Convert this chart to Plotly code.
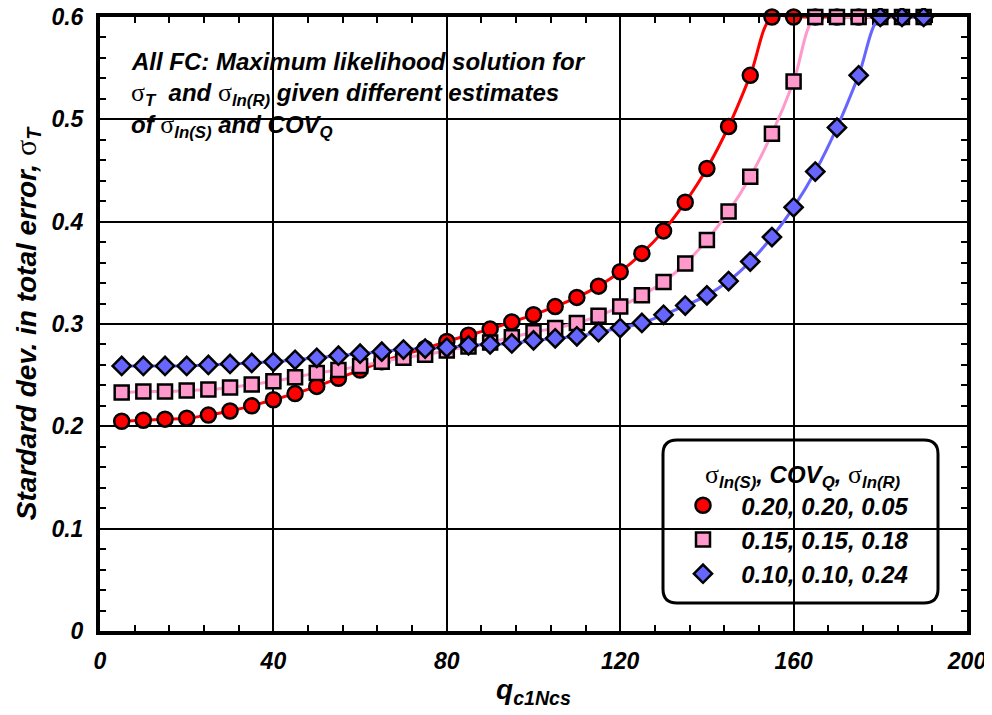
import plotly.graph_objects as go

# ---------------- data ----------------
q_c1ncs = [5, 10, 15, 20, 25, 30, 35, 40, 45, 50, 55, 60, 65, 70, 75, 80, 85, 90, 95,
           100, 105, 110, 115, 120, 125, 130, 135, 140, 145, 150, 155, 160, 165, 170,
           175, 180, 185, 190]

sigma_red = [0.205, 0.206, 0.207, 0.208, 0.211, 0.215, 0.220, 0.226, 0.232, 0.239,
             0.247, 0.255, 0.263, 0.270, 0.276, 0.283, 0.289, 0.295, 0.302, 0.309,
             0.317, 0.326, 0.337, 0.351, 0.369, 0.391, 0.419, 0.452, 0.493, 0.543,
             0.600, 0.600, 0.600, 0.600, 0.600, 0.600, 0.600, 0.600]

sigma_pink = [0.233, 0.234, 0.234, 0.235, 0.236, 0.238, 0.241, 0.244, 0.248, 0.252,
              0.255, 0.259, 0.263, 0.267, 0.270, 0.274, 0.278, 0.282, 0.287, 0.292,
              0.296, 0.301, 0.308, 0.317, 0.328, 0.341, 0.359, 0.382, 0.410, 0.444,
              0.486, 0.537, 0.600, 0.600, 0.600, 0.600, 0.600, 0.600]

sigma_blue = [0.259, 0.259, 0.259, 0.259, 0.260, 0.261, 0.262, 0.263, 0.265, 0.267,
              0.269, 0.271, 0.273, 0.275, 0.276, 0.277, 0.279, 0.280, 0.281, 0.284,
              0.286, 0.288, 0.292, 0.296, 0.301, 0.309, 0.318, 0.328, 0.342, 0.361,
              0.385, 0.414, 0.449, 0.492, 0.543, 0.600, 0.600, 0.600]

series_names = ["0.20, 0.20, 0.05", "0.15, 0.15, 0.18", "0.10, 0.10, 0.24"]
x_ticks = [0, 40, 80, 120, 160, 200]
y_ticks = [0, 0.1, 0.2, 0.3, 0.4, 0.5, 0.6]
y_ticklabels = ["0", "0.1", "0.2", "0.3", "0.4", "0.5", "0.6"]

# ---------------- styling ----------------
FONT = "Liberation Sans, Arial, sans-serif"
SIG = ('<span style="font-family:\'Liberation Serif\',serif;'
       'font-style:normal;font-weight:normal;font-size:1.08em">σ</span>')

OFF = 8                      # default page body margin
W, H = 992 - OFF, 715 - OFF
ML, MR, MT, MB = 92, 25, 9, 84
PW, PH = W - ML - MR, H - MT - MB


def px(xp):
    """page pixel x -> paper fraction"""
    return (xp - OFF - ML) / PW


def py(yp):
    """page pixel y -> paper fraction"""
    return (H - MB - (yp - OFF)) / PH


styles = [
    dict(color="#FF0000", symbol="circle", size=15),
    dict(color="#FF99CC", symbol="square", size=14),
    dict(color="#6666FF", symbol="diamond", size=14),
]
ys = [sigma_red, sigma_pink, sigma_blue]

fig = go.Figure()
for i, (yv, st, nm) in enumerate(zip(ys, styles, series_names)):
    fig.add_trace(go.Scatter(
        x=q_c1ncs, y=yv, mode="lines", line=dict(color=st["color"], width=3, shape="spline"),
        showlegend=False, hoverinfo="skip", cliponaxis=False))
    fig.add_trace(go.Scatter(
        x=q_c1ncs, y=yv, mode="markers", name="\u00a0\u00a0\u2009" + nm,
        marker=dict(color=st["color"], symbol=st["symbol"], size=st["size"],
                    line=dict(color="black", width=2.5)),
        cliponaxis=False, legendgroup=str(i)))

axis_common = dict(
    showline=True, linewidth=4, linecolor="black", mirror="ticks",
    showgrid=True, gridcolor="black", gridwidth=1.5,
    ticks="inside", ticklen=6, tickwidth=1.5, tickcolor="black",
    zeroline=False, automargin=False, ticklabeloverflow="allow",
    tickfont=dict(size=23, family=FONT, color="black", weight="bold", style="italic"),
)

fig.update_xaxes(
    range=[0, 200], tickvals=x_ticks, ticktext=[str(v) for v in x_ticks],
    minor=dict(dtick=8, tick0=0, ticks="inside", ticklen=6, tickwidth=1.5,
               tickcolor="black", showgrid=False),
    title=dict(text="q<sub>c1Ncs</sub>", font=dict(size=28), standoff=8),
    ticklabelstandoff=6,
    **axis_common)
fig.update_yaxes(
    range=[0, 0.6], tickvals=y_ticks, ticktext=y_ticklabels,
    minor=dict(dtick=0.02, tick0=0, ticks="inside", ticklen=6, tickwidth=1.5,
               tickcolor="black", showgrid=False),
    title=dict(text="Stardard dev. in total error, " + SIG + "<sub>T</sub>",
               font=dict(size=28), standoff=8),
    ticklabelstandoff=8,
    **axis_common)

# white box behind the annotation text (hides grid lines)
fig.add_shape(type="rect", xref="paper", yref="paper",
              x0=0, x1=px(596), y0=py(148), y1=py(39),
              fillcolor="white", line=dict(width=0), layer="between")

# rounded legend frame
x0, x1, y0, y1 = px(663), px(938), py(603), py(440)
rx, ry = 14 / PW, 14 / PH
path = (f"M {x0+rx},{y0} L {x1-rx},{y0} Q {x1},{y0} {x1},{y0+ry} "
        f"L {x1},{y1-ry} Q {x1},{y1} {x1-rx},{y1} L {x0+rx},{y1} "
        f"Q {x0},{y1} {x0},{y1-ry} L {x0},{y0+ry} Q {x0},{y0} {x0+rx},{y0} Z")
fig.add_shape(type="path", xref="paper", yref="paper", path=path,
              fillcolor="white", line=dict(color="black", width=3), layer="between")

lines = [
    "All FC: Maximum likelihood solution for",
    SIG + "<sub>T</sub>  and " + SIG + "<sub>ln(R)</sub> given different estimates",
    "of " + SIG + "<sub>ln(S)</sub> and COV<sub>Q</sub>",
]
line_y = [61, 94, 126]
for t, yy in zip(lines, line_y):
    fig.add_annotation(text=t, xref="paper", yref="paper", x=px(129), y=py(yy),
                       xanchor="left", yanchor="middle", showarrow=False, align="left",
                       font=dict(size=24))

fig.update_layout(
    width=W, height=H,
    margin=dict(l=ML, r=MR, t=MT, b=MB, autoexpand=False),
    paper_bgcolor="white", plot_bgcolor="white",
    font=dict(family=FONT, size=22, color="black", weight="bold", style="italic"),
    legend=dict(
        x=px(683), y=py(452), xanchor="left", yanchor="top",
        bgcolor="rgba(0,0,0,0)", borderwidth=0,
        font=dict(size=24),
        title=dict(text="\u00a0\u00a0\u00a0" + SIG + "<sub>ln(S)</sub>, COV<sub>Q</sub>, "
                        + SIG + "<sub>ln(R)</sub>",
                   font=dict(size=24), side="top"),
        traceorder="grouped", tracegroupgap=0,
        itemsizing="trace",
    ),
)

fig.write_html("out.html")
